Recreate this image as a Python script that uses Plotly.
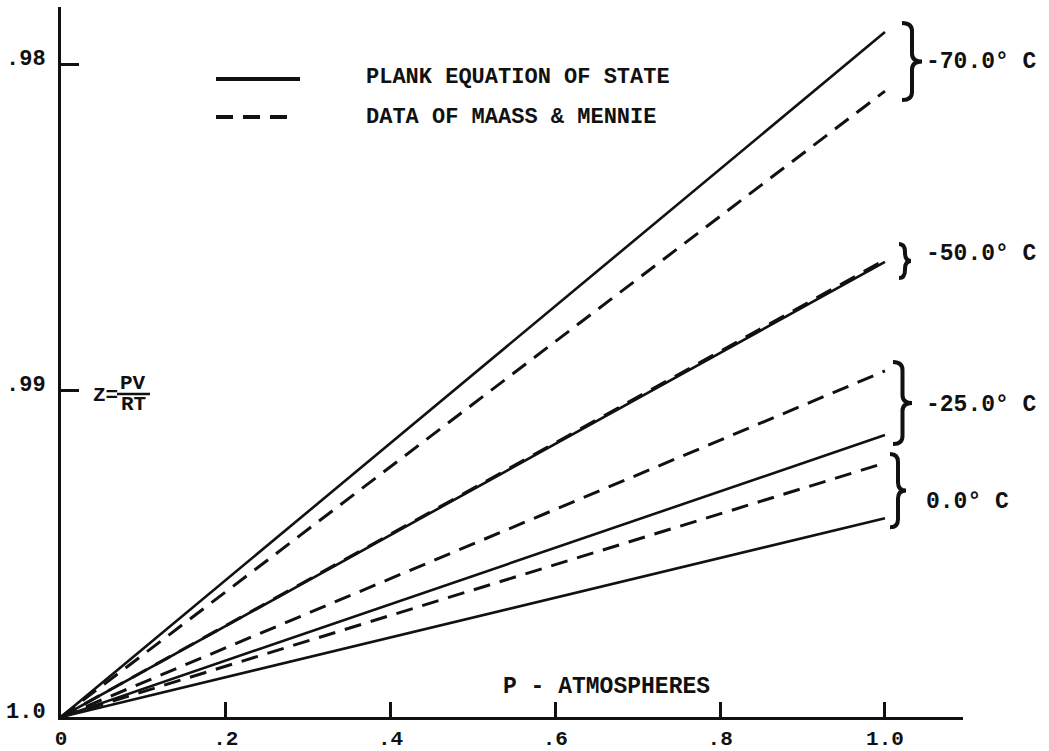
import plotly.graph_objects as go

# ---------------- data ----------------
pressure = [0.0, 1.0]                      # P - atmospheres
temps = ["-70.0", "-50.0", "-25.0", "0.0"]  # deg C
plank_z = [0.97902, 0.98606, 0.99136, 0.99391]   # Z at P = 1.0, Plank equation of state
maass_z = [0.98083, 0.98600, 0.98940, 0.99222]   # Z at P = 1.0, data of Maass & Mennie
z_at_zero = 1.0

x_ticks = [0, 0.2, 0.4, 0.6, 0.8, 1.0]
x_ticktext = ["0", ".2", ".4", ".6", ".8", "1.0"]
y_ticks = [1.0, 0.99, 0.98]
y_ticktext = ["1.0", ".99", ".98"]

legend_labels = ["PLANK EQUATION OF STATE", "DATA OF MAASS & MENNIE"]

# ---------------- layout geometry ----------------
W, H = 1049, 751
L, R, T, B = 61, 86, 7, 34
PW, PH = W - L - R, H - T - B
X_MAX = 1.0947
Y_TOP = 0.978254
Z_PER_PX = (z_at_zero - Y_TOP) / PH

FONT = "Liberation Mono, Courier New, monospace"
INK = "#111111"


def px(x):
    return (x - L) / PW


def py(y):
    return (H - B - y) / PH


def bold(s):
    return f"<b>{s}</b>"


fig = go.Figure()

for t, zp, zm in zip(temps, plank_z, maass_z):
    fig.add_trace(go.Scatter(x=pressure, y=[z_at_zero, zp], mode="lines",
                             line=dict(color=INK, width=2.6),
                             showlegend=False, hoverinfo="skip"))
    fig.add_trace(go.Scatter(x=pressure, y=[z_at_zero, zm], mode="lines",
                             line=dict(color=INK, width=3, dash="17px,10px"),
                             showlegend=False, hoverinfo="skip"))

shapes = []
annotations = []

# braces and temperature labels
brace_x0 = [902, 899, 893, 890]
brace_w = [20, 12, 19, 16]
label_shift = [0, 7, -2, -11]
for i, t in enumerate(temps):
    lo, hi = sorted([plank_z[i], maass_z[i]])
    mid = (lo + hi) / 2
    half = max((hi - lo) / 2 + 9 * Z_PER_PX, 17 * Z_PER_PX)
    yt, yb = mid - half, mid + half
    r = 8 * Z_PER_PX
    x0 = px(brace_x0[i])
    xm = px(brace_x0[i] + brace_w[i] / 2)
    xr = px(brace_x0[i] + brace_w[i])
    path = (f"M {x0},{yt} Q {xm},{yt} {xm},{yt + r} L {xm},{mid - r} "
            f"Q {xm},{mid} {xr},{mid} Q {xm},{mid} {xm},{mid + r} "
            f"L {xm},{yb - r} Q {xm},{yb} {x0},{yb}")
    shapes.append(dict(type="path", xref="paper", yref="y", path=path,
                       line=dict(color=INK, width=4)))
    annotations.append(dict(xref="paper", yref="y", x=px(924), y=mid,
                            yshift=label_shift[i], xanchor="left",
                            yanchor="middle", showarrow=False,
                            text=bold(f"{t}° C"),
                            font=dict(family=FONT, size=23, color=INK)))

# legend (manual, drawn like the original)
shapes.append(dict(type="line", xref="paper", yref="paper",
                   x0=px(216), x1=px(300), y0=py(79), y1=py(79),
                   line=dict(color=INK, width=4)))
shapes.append(dict(type="line", xref="paper", yref="paper",
                   x0=px(216), x1=px(291), y0=py(117), y1=py(117),
                   line=dict(color=INK, width=4, dash="17px,10px")))
for label, yy in zip(legend_labels, [78, 117]):
    annotations.append(dict(xref="paper", yref="paper", x=px(364), y=py(yy),
                            xanchor="left", yanchor="middle", showarrow=False,
                            text=bold(label),
                            font=dict(family=FONT, size=22, color=INK)))

# axis titles
annotations.append(dict(xref="paper", yref="paper", x=px(606), y=py(687),
                        xanchor="center", yanchor="middle", showarrow=False,
                        text=bold("P - ATMOSPHERES"),
                        font=dict(family=FONT, size=23, color=INK)))
annotations.append(dict(xref="paper", yref="paper", x=px(105), y=py(396),
                        xanchor="center", yanchor="middle", showarrow=False,
                        text=bold("Z="),
                        font=dict(family=FONT, size=21, color=INK)))
annotations.append(dict(xref="paper", yref="paper", x=px(133), y=py(384),
                        xanchor="center", yanchor="middle", showarrow=False,
                        text=bold("PV"),
                        font=dict(family=FONT, size=21, color=INK)))
annotations.append(dict(xref="paper", yref="paper", x=px(133), y=py(405),
                        xanchor="center", yanchor="middle", showarrow=False,
                        text=bold("RT"),
                        font=dict(family=FONT, size=21, color=INK)))
shapes.append(dict(type="line", xref="paper", yref="paper",
                   x0=px(117), x1=px(150), y0=py(394), y1=py(394),
                   line=dict(color=INK, width=2.5)))

fig.update_layout(
    width=W, height=H,
    margin=dict(l=L, r=R, t=T, b=B, pad=0, autoexpand=False),
    paper_bgcolor="white", plot_bgcolor="white",
    shapes=shapes, annotations=annotations,
    showlegend=False,
    xaxis=dict(range=[0, X_MAX], tickvals=x_ticks,
               ticktext=[bold(s) for s in x_ticktext], automargin=False,
               showgrid=False, zeroline=False, showline=True,
               linecolor=INK, linewidth=3, ticks="inside", ticklen=15,
               tickwidth=3, tickcolor=INK, ticklabelstandoff=0,
               tickfont=dict(family=FONT, size=21, color=INK)),
    yaxis=dict(range=[z_at_zero, Y_TOP], tickvals=y_ticks,
               ticktext=[bold(s) for s in y_ticktext], automargin=False,
               showgrid=False, zeroline=False, showline=True,
               linecolor=INK, linewidth=3, ticks="inside", ticklen=18,
               tickwidth=3, tickcolor=INK, ticklabelstandoff=8,
               ticklabelshift=7,
               tickfont=dict(family=FONT, size=22, color=INK)),
)

fig.write_html("out.html")
